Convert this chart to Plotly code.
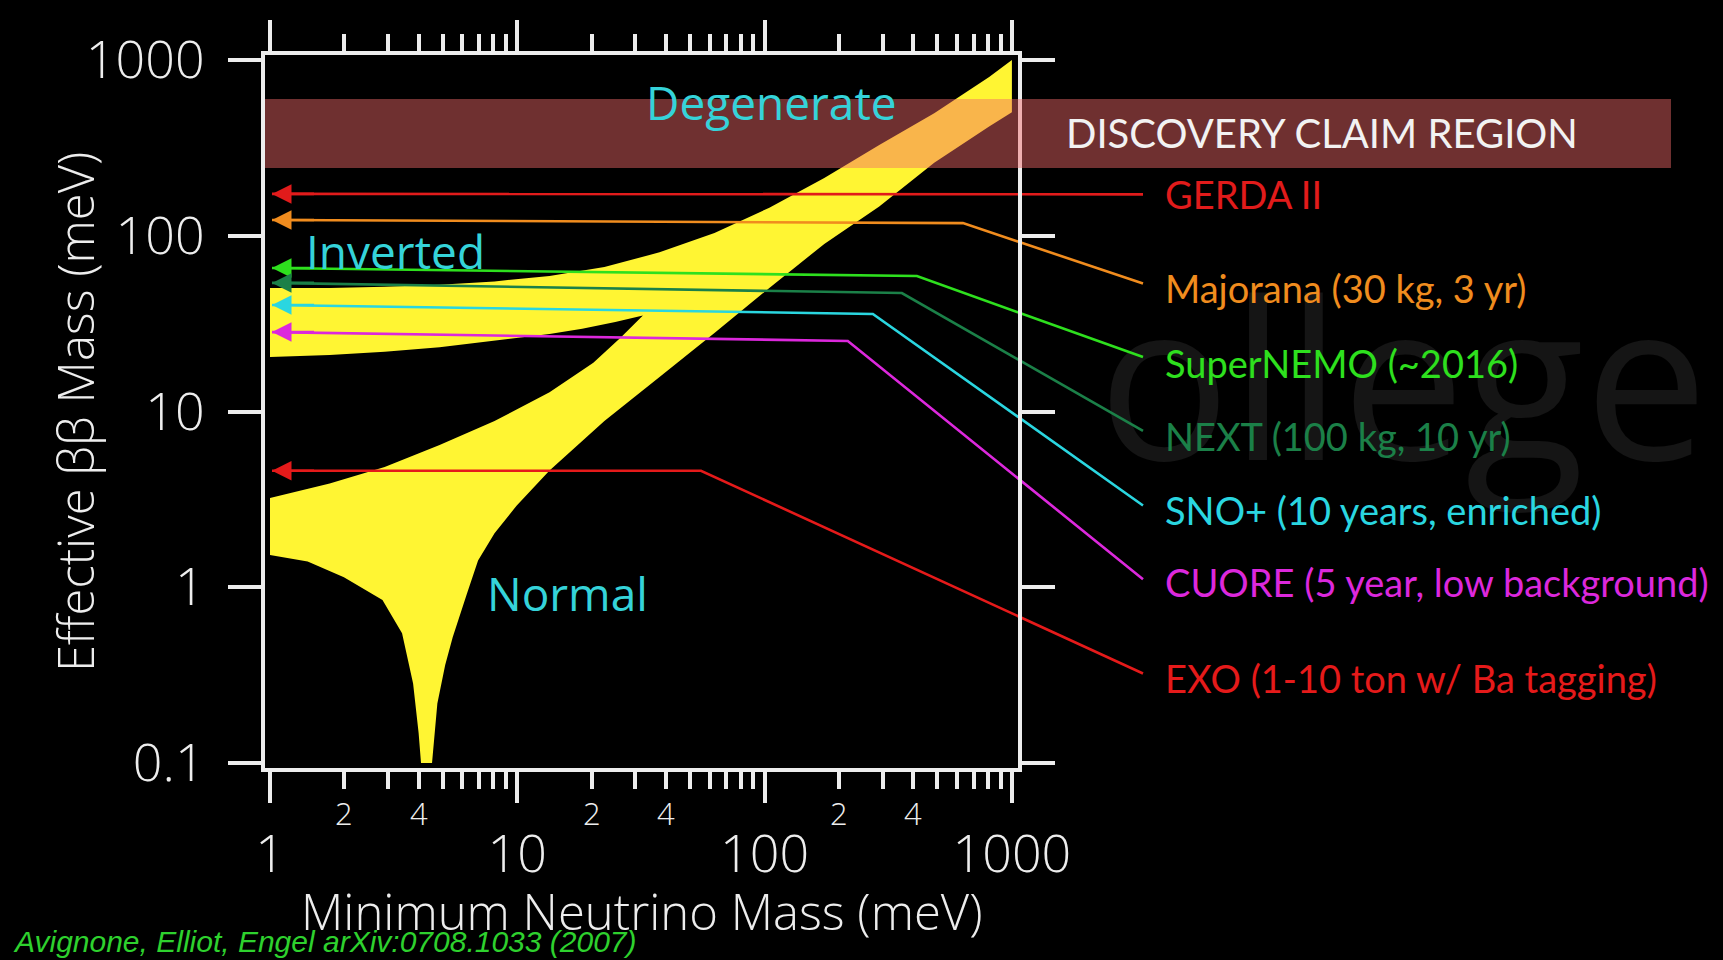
import numpy as np
import plotly.graph_objects as go

W, H = 1723, 960

# ---------------- allowed region outline (meV) ----------------
top_m = [1, 1.743, 2.908, 4.85, 8.09, 13.5, 22.5, 37.6, 62.7, 104.5, 174.3, 290.8, 485.1, 809, 1000]
top_v = [50.5, 50.5, 51.2, 52.7, 55.0, 59.1, 66.3, 80.5, 103.7, 144.4, 213, 328, 498, 800, 1000]

low_m = [1000, 809, 485.1, 290.8, 174.3, 104.5, 62.7, 37.6, 22.5, 13.5, 9.93, 8.09, 6.94, 6.26, 5.48, 5.11, 4.75, 4.52]
low_v = [505, 419, 260.5, 146.5, 89.8, 50.5, 27.96, 15.7, 8.84, 4.62, 2.91, 2.03, 1.42, 0.92, 0.52, 0.361, 0.218, 0.1]

cusp_m = [4.08, 3.99, 3.79, 3.42, 2.85, 1.99, 1.42, 1]
cusp_v = [0.1, 0.148, 0.283, 0.548, 0.845, 1.14, 1.40, 1.525]

nh_up_m = [1, 1.743, 2.908, 4.85, 8.09, 13.5, 20.3, 26.2, 32.2]
nh_up_v = [3.22, 3.89, 4.83, 6.44, 8.84, 12.85, 18.96, 26.4, 35.2]

ih_low_m = [24.9, 18.3, 13.5, 8.09, 4.85, 2.908, 1.743, 1]
ih_low_v = [32.3, 29.6, 27.6, 25.3, 23.2, 21.9, 20.96, 20.4]

# ---------------- experiments ----------------
exp_names = ["GERDA II", "Majorana (30 kg, 3 yr)", "SuperNEMO (~2016)", "NEXT (100 kg, 10 yr)",
             "SNO+ (10 years, enriched)", "CUORE (5 year, low background)", "EXO (1-10 ton w/ Ba tagging)"]
exp_sens = [173, 123, 65.5, 53.9, 40.4, 28.3, 4.6]          # meV at the arrow
exp_knee_m = [None, 634, 413, 359, 274, 217, 55.3]           # where the leader bends
exp_knee_v = [None, 118, 59.0, 47.2, 35.9, 25.2, 4.6]
exp_end_v = [172, 53.5, 20.4, 7.75, 2.92, 1.11, 0.323]
exp_label_v = [173, 50.4, 19.0, 7.22, 2.75, 1.066, 0.305]
exp_colors = ["#E11B1B", "#F08C1E", "#2EE01E", "#1B8048", "#2AD6E0", "#DC28DC", "#E51A1A"]

discovery_lo, discovery_hi = 243, 600

x_major = [1, 10, 100, 1000]
x_minor = [2, 3, 4, 5, 6, 7, 8, 9, 20, 30, 40, 50, 60, 70, 80, 90, 200, 300, 400, 500, 600, 700, 800, 900]
x_minor_labeled = [2, 4, 20, 40, 200, 400]
x_minor_text = ["2", "4", "2", "4", "2", "4"]
y_major = [0.1, 1, 10, 100, 1000]
y_major_text = ["0.1", "1", "10", "100", "1000"]

region_labels = ["Inverted", "Normal", "Degenerate"]
region_m = [3.23, 15.97, 107.1]
region_v = [81.9, 0.923, 576]

# ---------------- geometry / style ----------------
X1PX, DECX = 270.0, 247.3      # pixel of 1 meV, pixels per decade (x)
Y1000PX, DECY = 60.0, 175.75   # pixel of 1000 meV, pixels per decade (y)
def lx(px): return (px - X1PX) / DECX
def ly(py): return 3 - (py - Y1000PX) / DECY

FL, FR, FT, FB = 265, 1018, 55, 768
END_M = 10 ** lx(1143)
LABEL_M = 10 ** lx(1163)
TIP_M = 10 ** lx(272)

AX = "#EDEDED"
YELLOW = "#FFF533"
CYAN = "#35D3D9"
TICKFONT = dict(family="Open Sans", size=52, color=AX, weight=300)

fig = go.Figure()

# faint watermark
fig.add_trace(go.Scatter(x=[10 ** lx(1403)], y=[10 ** ly(405)], mode="text", text=["ollege"],
                         textfont=dict(family="Open Sans", size=220, color="#151515"),
                         hoverinfo="skip", xaxis="x", yaxis="y"))

poly_x = top_m + low_m + cusp_m + nh_up_m + ih_low_m + [top_m[0]]
poly_y = top_v + low_v + cusp_v + nh_up_v + ih_low_v + [top_v[0]]
fig.add_trace(go.Scatter(x=poly_x, y=poly_y, mode="lines", fill="toself", fillcolor=YELLOW,
                         line=dict(width=0, color=YELLOW), hoverinfo="skip", xaxis="x", yaxis="y"))

annotations = []
for name, s, km, kv, ev, lv, c in zip(exp_names, exp_sens, exp_knee_m, exp_knee_v,
                                       exp_end_v, exp_label_v, exp_colors):
    xs = [TIP_M] + ([km] if km else []) + [END_M]
    ys = [s] + ([kv] if kv else []) + [ev]
    fig.add_trace(go.Scatter(x=xs, y=ys, mode="lines", line=dict(color=c, width=2.6),
                             hoverinfo="skip", xaxis="x", yaxis="y"))
    annotations.append(dict(x=np.log10(TIP_M), y=np.log10(s), ax=np.log10(TIP_M * 1.5), ay=np.log10(s),
                            xref="x", yref="y", axref="x", ayref="y", text="", showarrow=True,
                            arrowhead=2, arrowsize=1.5, arrowwidth=2.6, arrowcolor=c, standoff=0))
    annotations.append(dict(x=np.log10(LABEL_M), y=np.log10(lv), xref="x", yref="y", text=name,
                            showarrow=False, xanchor="left", yanchor="middle",
                            font=dict(family="Lato", size=38, color=c)))

for t, m, v in zip(region_labels, region_m, region_v):
    annotations.append(dict(x=np.log10(m), y=np.log10(v), xref="x", yref="y", text=t, showarrow=False,
                            xanchor="center", yanchor="middle",
                            font=dict(family="Open Sans", size=46, color=CYAN)))

annotations.append(dict(x=1322 / W, y=np.log10(np.sqrt(discovery_lo * discovery_hi)), xref="paper", yref="y",
                        text="DISCOVERY CLAIM REGION", showarrow=False, xanchor="center", yanchor="middle",
                        font=dict(family="Lato", size=40, color="#F2F2F2")))

for v, t in zip(x_minor_labeled, x_minor_text):
    annotations.append(dict(x=np.log10(v), y=1 - 813 / H, xref="x2", yref="paper", text=t,
                            showarrow=False, xanchor="center", yanchor="middle",
                            font=dict(family="Open Sans", size=31, color=AX, weight=300)))

annotations.append(dict(x=641 / W, y=1 - 911 / H, xref="paper", yref="paper",
                        text="Minimum Neutrino Mass (meV)", showarrow=False, xanchor="center", yanchor="middle",
                        font=dict(family="Open Sans", size=49, color=AX, weight=300)))
annotations.append(dict(x=75 / W, y=1 - 412 / H, xref="paper", yref="paper", textangle=-90,
                        text="Effective ββ Mass (meV)", showarrow=False, xanchor="center", yanchor="middle",
                        font=dict(family="Open Sans", size=49, color=AX, weight=300)))
annotations.append(dict(x=11 / W, y=1 - 941 / H, xref="paper", yref="paper", xanchor="left", yanchor="middle",
                        text="Avignone, Elliot, Engel arXiv:0708.1033 (2007)", showarrow=False,
                        font=dict(family="Liberation Sans", size=30, color="#2ED12E", style="italic")))

shapes = [dict(type="rect", xref="paper", yref="y", x0=FL / W, x1=1671 / W,
               y0=discovery_lo, y1=discovery_hi,
               fillcolor="rgba(243,104,104,0.46)", line=dict(width=0), layer="above")]

fig.update_layout(
    width=W, height=H, margin=dict(l=0, r=0, t=0, b=0, pad=0, autoexpand=False),
    paper_bgcolor="black", plot_bgcolor="rgba(0,0,0,0)", showlegend=False,
    xaxis=dict(type="log", domain=[0, 1], range=[lx(0), lx(W)], visible=False, anchor="y", automargin=False),
    yaxis=dict(type="log", domain=[0, 1], range=[ly(H), ly(0)], visible=False, anchor="x", automargin=False),
    xaxis2=dict(type="log", domain=[FL / W, FR / W], range=[lx(FL), lx(FR)], anchor="y2", automargin=False,
                showline=True, linecolor=AX, linewidth=4, mirror="allticks",
                ticks="outside", ticklen=31, tickwidth=4, tickcolor=AX,
                tickmode="array", tickvals=x_major, ticktext=[str(v) for v in x_major],
                tickfont=TICKFONT, ticklabelstandoff=7, showgrid=False, zeroline=False,
                minor=dict(ticks="outside", ticklen=17, tickwidth=4, tickcolor=AX,
                           tickmode="array", tickvals=x_minor, showgrid=False)),
    yaxis2=dict(type="log", domain=[1 - FB / H, 1 - FT / H], range=[ly(FB), ly(FT)], anchor="x2", automargin=False,
                showline=True, linecolor=AX, linewidth=4, mirror="allticks",
                ticks="outside", ticklen=33, tickwidth=4, tickcolor=AX,
                tickmode="array", tickvals=y_major, ticktext=y_major_text,
                tickfont=TICKFONT, ticklabelstandoff=13, showgrid=False, zeroline=False),
    annotations=annotations, shapes=shapes,
)

fig.write_html("out.html")
